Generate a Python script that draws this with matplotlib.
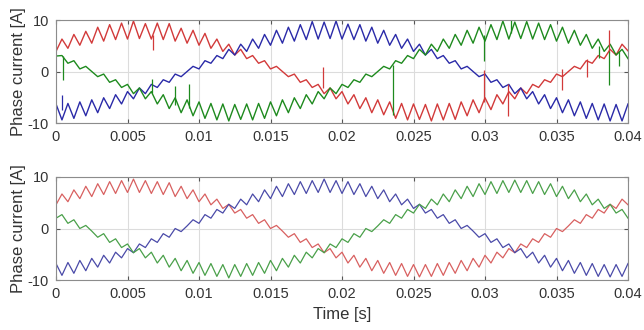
import numpy as np
import matplotlib
matplotlib.use("Agg")
import matplotlib.pyplot as plt

plt.rcParams['font.family'] = ['Liberation Sans', 'DejaVu Sans']
plt.rcParams['axes.unicode_minus'] = False

# sample step of the ripple vertices (s)
dt = 0.04 / 96

# ---------- top panel: measured phase currents [A] ----------
top_a = [3.9, 6.3, 4.5, 7.2, 5.1, 7.8, 5.5, 8.6, 5.9, 9.1,
         6.2, 9.4, 6.3, 9.8, 6.4, 9.3, 6.3, 9.4, 6.2, 9.3,
         5.9, 8.4, 5.5, 8.0, 5.1, 7.4, 4.5, 6.3, 3.9, 5.3,
         3.2, 4.3, 2.5, 3.1, 1.6, 2.1, 0.5, 1.0, 0.0, -1.0,
         -0.5, -2.1, -1.6, -3.1, -2.5, -4.3, -3.2, -5.3, -3.9, -6.3,
         -4.5, -7.2, -5.1, -8.0, -5.5, -8.4, -5.9, -9.1, -6.2, -9.4,
         -6.3, -9.3, -6.4, -9.6, -6.3, -9.4, -6.2, -9.3, -5.9, -8.6,
         -5.5, -8.0, -5.1, -7.4, -4.5, -6.3, -3.9, -5.3, -3.2, -4.3,
         -2.5, -3.1, -1.6, -2.1, -0.5, -1.0, 0.0, 1.0, 0.5, 2.1,
         1.6, 3.1, 2.5, 4.3, 3.2, 5.3, 4.0]
top_b = [-6.3, -9.4, -6.2, -9.1, -5.9, -8.6, -5.5, -8.0, -5.1, -7.2,
         -4.5, -6.3, -3.9, -5.3, -3.2, -4.3, -2.5, -3.1, -1.6, -2.1,
         -0.5, -1.0, 0.0, 1.0, 0.5, 2.1, 1.6, 3.1, 2.5, 4.3,
         3.2, 5.3, 3.9, 6.3, 4.5, 7.2, 5.1, 8.0, 5.5, 8.6,
         5.9, 9.1, 6.2, 9.7, 6.3, 9.6, 6.4, 9.8, 6.3, 9.2,
         6.2, 9.1, 5.9, 8.6, 5.5, 8.0, 5.1, 7.2, 4.5, 6.3,
         3.9, 5.3, 3.2, 4.3, 2.5, 3.1, 1.6, 2.1, 0.5, 1.0,
         0.0, -1.0, -0.5, -2.1, -1.6, -3.1, -2.5, -4.3, -3.2, -5.3,
         -3.9, -6.3, -4.5, -7.2, -5.1, -8.0, -5.5, -8.6, -5.9, -9.1,
         -6.2, -9.4, -6.3, -9.6, -6.4, -9.6, -6.3]
top_c = [3.0, 3.1, 1.6, 2.1, 0.5, 1.0, 0.0, -1.0, -0.5, -2.1,
         -1.6, -3.1, -2.5, -4.3, -3.2, -5.3, -3.9, -6.3, -4.5, -7.2,
         -5.1, -8.0, -5.5, -8.6, -5.9, -9.1, -6.2, -9.4, -6.3, -9.6,
         -6.4, -9.3, -6.3, -9.4, -6.2, -9.1, -5.9, -8.6, -5.5, -8.0,
         -5.1, -7.2, -4.5, -6.3, -3.9, -5.3, -3.2, -4.3, -2.5, -3.1,
         -1.6, -2.1, -0.5, -1.0, 0.0, 1.0, 0.5, 2.1, 1.6, 3.1,
         2.5, 4.3, 3.2, 5.3, 3.9, 6.3, 4.5, 7.2, 5.1, 8.0,
         5.5, 8.6, 5.9, 9.1, 6.2, 9.8, 6.3, 9.6, 6.4, 9.7,
         6.3, 9.4, 6.2, 9.1, 5.9, 8.6, 5.5, 8.0, 5.1, 7.2,
         4.5, 6.3, 3.9, 5.3, 3.2, 4.3, 2.5]

# switching spikes in the top panel: time, phase, start value, end value
spike_t = [0.0005, 0.0004, 0.0068, 0.0067, 0.0083, 0.0093, 0.0187, 0.0236,
           0.0299, 0.0299, 0.0316, 0.0318, 0.0354, 0.0371, 0.0387, 0.0387,
           0.0380, 0.0394]
spike_phase = ['c', 'b', 'a', 'c', 'c', 'c', 'a', 'c',
               'c', 'a', 'a', 'c', 'a', 'a', 'a', 'c',
               'c', 'c']
spike_from = [3.0, -7.5, 7.0, -4.2, -6.5, -7.0, -3.3, 1.2,
              7.0, -6.0, -2.5, 7.5, 0.5, 2.5, 3.5, 4.0,
              5.0, 4.0]
spike_to = [-1.6, -4.6, 4.2, -1.5, -2.8, -2.5, 0.9, -8.4,
            2.0, 0.3, -8.6, 10.0, -3.6, -1.1, 8.0, -2.6,
            2.6, 1.0]

# ---------- bottom panel: phase currents [A] ----------
bot_a = [4.6, 6.7, 5.2, 7.5, 5.8, 8.2, 6.2, 8.7, 6.6, 9.1,
         6.8, 9.3, 7.0, 9.6, 7.0, 9.3, 6.8, 9.1, 6.6, 8.9,
         6.2, 8.2, 5.8, 7.5, 5.2, 6.7, 4.6, 5.7, 3.9, 4.7,
         3.0, 3.7, 2.0, 2.7, 1.0, 1.7, 0.0, 0.6, -0.5, -1.7,
         -1.0, -2.7, -2.0, -3.7, -3.0, -4.7, -3.9, -5.7, -4.6, -6.7,
         -5.2, -7.5, -5.8, -8.2, -6.2, -8.7, -6.6, -9.1, -6.8, -9.3,
         -7.0, -9.4, -7.0, -9.3, -6.8, -9.1, -6.6, -8.7, -6.2, -8.2,
         -5.8, -7.5, -5.2, -6.7, -4.6, -5.7, -3.9, -4.7, -3.0, -3.7,
         -2.0, -2.7, -1.0, -1.7, 0.0, -0.6, 0.5, 1.7, 1.0, 2.7,
         2.0, 3.7, 3.0, 4.7, 3.9, 5.7, 4.6]
bot_b = [-6.8, -9.1, -6.6, -8.7, -6.2, -8.2, -5.8, -7.5, -5.2, -6.7,
         -4.6, -5.7, -3.9, -4.7, -3.0, -3.7, -2.0, -2.7, -1.0, -1.7,
         0.0, -0.6, 0.5, 1.7, 1.0, 2.7, 2.0, 3.7, 3.0, 4.7,
         3.9, 5.7, 4.6, 6.7, 5.2, 7.5, 5.8, 8.2, 6.2, 8.7,
         6.6, 9.1, 6.8, 9.3, 7.0, 9.6, 7.0, 9.3, 6.8, 9.1,
         6.6, 8.7, 6.2, 8.2, 5.8, 7.5, 5.2, 6.7, 4.6, 5.7,
         3.9, 4.7, 3.0, 3.7, 2.0, 2.7, 1.0, 1.7, 0.0, 0.6,
         -0.5, -1.7, -1.0, -2.7, -2.0, -3.7, -3.0, -4.7, -3.9, -5.7,
         -4.6, -6.7, -5.2, -7.5, -5.8, -8.2, -6.2, -8.7, -6.6, -9.1,
         -6.8, -9.3, -7.0, -9.4, -7.0, -9.3, -6.8]
bot_c = [2.0, 2.7, 1.0, 1.7, 0.0, 0.6, -0.5, -1.7, -1.0, -2.7,
         -2.0, -3.7, -3.0, -4.7, -3.9, -5.7, -4.6, -6.7, -5.2, -7.5,
         -5.8, -8.2, -6.2, -8.7, -6.6, -9.1, -6.8, -9.3, -7.0, -9.6,
         -7.0, -9.3, -6.8, -9.1, -6.6, -8.7, -6.2, -8.2, -5.8, -7.5,
         -5.2, -6.7, -4.6, -5.7, -3.9, -4.7, -3.0, -3.7, -2.0, -2.7,
         -1.0, -1.7, 0.0, -0.6, 0.5, 1.7, 1.0, 2.7, 2.0, 3.7,
         3.0, 4.7, 3.9, 5.7, 4.6, 6.7, 5.2, 7.5, 5.8, 8.2,
         6.2, 8.7, 6.6, 9.1, 6.8, 9.3, 7.0, 9.4, 7.0, 9.3,
         6.8, 9.1, 6.6, 8.7, 6.2, 8.2, 5.8, 7.5, 5.2, 6.7,
         4.6, 5.7, 3.9, 4.7, 3.0, 3.7, 2.0]

xticks = [0, 0.005, 0.01, 0.015, 0.02, 0.025, 0.03, 0.035, 0.04]
xticklabels = ['0', '0.005', '0.01', '0.015', '0.02', '0.025', '0.03', '0.035', '0.04']
yticks = [-10, 0, 10]
yticklabels = ['-10', '0', '10']

top_colors = {'a': '#d23a3a', 'b': '#2a2aa8', 'c': '#1e8a1e'}
bot_colors = {'a': '#d86060', 'b': '#4a4aa8', 'c': '#4aa04a'}

t = np.arange(len(top_a)) * dt

fig = plt.figure(figsize=(6.44, 3.30), dpi=100)
W, H = 644.0, 330.0
ax1 = fig.add_axes([56 / W, 1 - 123 / H, 572 / W, 103 / H])
ax2 = fig.add_axes([56 / W, 1 - 280 / H, 572 / W, 103 / H])

def style(ax):
    ax.set_xlim(0, 0.04)
    ax.set_ylim(-10, 10)
    ax.set_xticks(xticks)
    ax.set_xticklabels(xticklabels)
    ax.set_yticks(yticks)
    ax.set_yticklabels(yticklabels)
    ax.grid(True, color='#dcdcdc', linewidth=0.8)
    ax.set_axisbelow(True)
    for s in ax.spines.values():
        s.set_color('#8c8c8c')
        s.set_linewidth(0.8)
    ax.tick_params(direction='in', length=3, width=0.8, top=True, right=True,
                   colors='#555555', labelcolor='#333333', labelsize=10.5, pad=5)
    ax.set_ylabel('Phase current [A]', fontsize=12, color='#333333')
    ax.yaxis.set_label_coords(-0.052, 0.5)

style(ax1)
style(ax2)

series_top = {'a': top_a, 'b': top_b, 'c': top_c}
for key in ['a', 'b', 'c']:
    ax1.plot(t, series_top[key], color=top_colors[key], linewidth=1.0,
             solid_joinstyle='round')
for st, ph, y0, y1 in zip(spike_t, spike_phase, spike_from, spike_to):
    ax1.vlines(st, y0, y1, color=top_colors[ph], linewidth=0.9)

series_bot = {'a': bot_a, 'b': bot_b, 'c': bot_c}
for key in ['a', 'b', 'c']:
    ax2.plot(t, series_bot[key], color=bot_colors[key], linewidth=0.9,
             solid_joinstyle='round')

ax2.set_xlabel('Time [s]', fontsize=12, color='#333333', labelpad=4)

fig.savefig('out.png', dpi=100)
